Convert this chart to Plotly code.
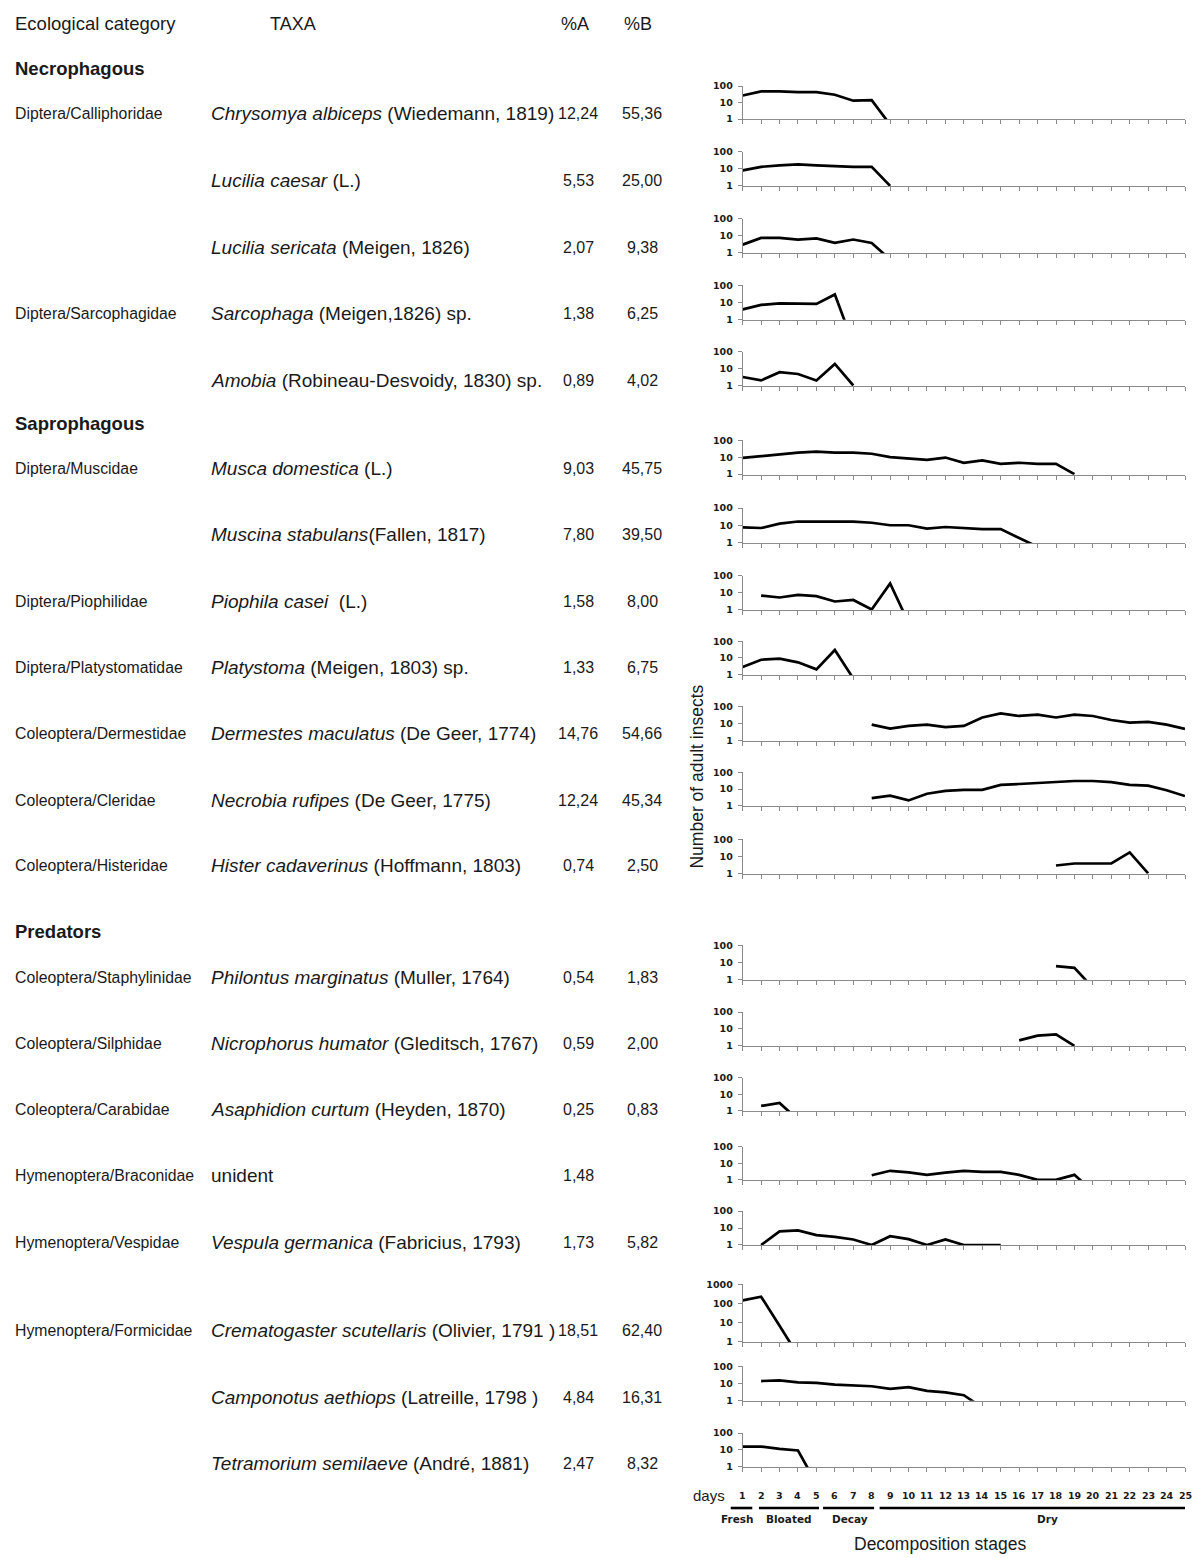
import plotly.graph_objects as go

W, H = 1195, 1558

# ---------------- data ----------------
DAYS = list(range(1, 26))

GROUPS = ["Necrophagous", "Saprophagous", "Predators"]

FAMILIES = [
    "Diptera/Calliphoridae", "", "", "Diptera/Sarcophagidae", "",
    "Diptera/Muscidae", "", "Diptera/Piophilidae", "Diptera/Platystomatidae",
    "Coleoptera/Dermestidae", "Coleoptera/Cleridae", "Coleoptera/Histeridae",
    "Coleoptera/Staphylinidae", "Coleoptera/Silphidae", "Coleoptera/Carabidae",
    "Hymenoptera/Braconidae", "Hymenoptera/Vespidae", "Hymenoptera/Formicidae", "", "",
]

TAXA = [
    "<i>Chrysomya albiceps</i> (Wiedemann, 1819)",
    "<i>Lucilia caesar</i> (L.)",
    "<i>Lucilia sericata</i> (Meigen, 1826)",
    "<i>Sarcophaga</i> (Meigen,1826) sp.",
    "<i>Amobia</i> (Robineau-Desvoidy, 1830) sp.",
    "<i>Musca domestica</i> (L.)",
    "<i>Muscina stabulans</i>(Fallen, 1817)",
    "<i>Piophila casei</i>  (L.)",
    "<i>Platystoma</i> (Meigen, 1803) sp.",
    "<i>Dermestes maculatus</i> (De Geer, 1774)",
    "<i>Necrobia rufipes</i> (De Geer, 1775)",
    "<i>Hister cadaverinus</i> (Hoffmann, 1803)",
    "<i>Philontus marginatus</i> (Muller, 1764)",
    "<i>Nicrophorus humator</i> (Gleditsch, 1767)",
    "<i>Asaphidion curtum</i> (Heyden, 1870)",
    "unident",
    "<i>Vespula germanica</i> (Fabricius, 1793)",
    "<i>Crematogaster scutellaris</i> (Olivier, 1791 )",
    "<i>Camponotus aethiops</i> (Latreille, 1798 )",
    "<i>Tetramorium semilaeve</i> (André, 1881)",
]

PCT_A = ["12,24", "5,53", "2,07", "1,38", "0,89", "9,03", "7,80", "1,58", "1,33",
         "14,76", "12,24", "0,74", "0,54", "0,59", "0,25", "1,48", "1,73",
         "18,51", "4,84", "2,47"]
PCT_B = ["55,36", "25,00", "9,38", "6,25", "4,02", "45,75", "39,50", "8,00", "6,75",
         "54,66", "45,34", "2,50", "1,83", "2,00", "0,83", "", "5,82",
         "62,40", "16,31", "8,32"]

# number of adult insects per day (first value on START_DAY)
chrysomya_albiceps = [27, 48, 48, 43, 43, 30, 13, 14, 0.45]
lucilia_caesar = [8, 13, 16, 18, 16, 14, 13, 13, 1]
lucilia_sericata = [3, 7.5, 7.5, 6, 7, 3.8, 6, 3.8, 0.4]
sarcophaga_sp = [3.8, 7, 8.7, 8.7, 8, 29, 0.035]
amobia_sp = [3.2, 2, 6.2, 4.8, 2, 19, 1]
musca_domestica = [9, 11.5, 15.5, 18.5, 21, 18.5, 18.5, 16, 10, 8.4, 7, 9.5, 4.7, 6.4,
                   4, 4.7, 4, 4, 1]
muscina_stabulans = [7.5, 6.9, 12.5, 16.5, 16.5, 16.5, 16.5, 14, 10, 10, 6.3, 7.9, 7, 6,
                     6, 2, 0.55]
piophila_casei = [6.8, 5.2, 7.5, 6.2, 3, 3.7, 1, 36, 0.16]
platystoma_sp = [2.9, 7.8, 9, 5.5, 2.1, 30, 0.6]
dermestes_maculatus = [8.4, 4.9, 7, 8.4, 5.9, 7, 22, 38, 27, 32, 22, 32, 27, 15.6, 11,
                       12, 8.4, 4.7]
necrobia_rufipes = [2.9, 4, 2.1, 5.2, 7.8, 9, 9, 17.5, 20, 23, 27.5, 30, 30, 26, 17.5,
                    16, 8.5, 3.8]
hister_cadaverinus = [2.9, 3.8, 3.8, 3.8, 17, 1]
philontus_marginatus = [5.9, 4.7, 0.32]
nicrophorus_humator = [2.1, 4, 4.8, 1]
asaphidion_curtum = [2, 3, 0.3]
braconidae_unident = [1.9, 3.5, 2.8, 2, 2.7, 3.5, 3, 3, 2, 1, 1, 2, 0.2]
vespula_germanica = [1, 6.4, 7.3, 3.8, 3, 2.1, 1, 3.3, 2.2, 1, 2.1, 1, 1, 1]
crematogaster_scutellaris = [145, 224, 7, 0.2]
camponotus_aethiops = [13.6, 15, 11.4, 10.5, 8.4, 7.6, 6.7, 4.7, 5.9, 3.6, 2.9, 2, 0.37]
tetramorium_semilaeve = [16, 16, 11.7, 9.3, 0.1]

COUNTS = [chrysomya_albiceps, lucilia_caesar, lucilia_sericata, sarcophaga_sp, amobia_sp,
          musca_domestica, muscina_stabulans, piophila_casei, platystoma_sp,
          dermestes_maculatus, necrobia_rufipes, hister_cadaverinus,
          philontus_marginatus, nicrophorus_humator, asaphidion_curtum,
          braconidae_unident, vespula_germanica, crematogaster_scutellaris,
          camponotus_aethiops, tetramorium_semilaeve]
START_DAY = [1, 1, 1, 1, 1, 1, 1, 2, 1, 8, 8, 18, 18, 16, 2, 8, 2, 1, 2, 1]
TOP_DECADE = [2] * 17 + [3, 2, 2]

STAGES = ["Fresh", "Bloated", "Decay", "Dry"]
STAGE_FIRST_DAY = [1, 2, 6, 9]
STAGE_LAST_DAY = [1, 5, 8, 25]

# ---------------- layout (pixel positions in the window) ----------------
AXIS_X0, AXIS_X1 = 742.7, 1185.0
AXIS_BOTTOM_PX = [114.3, 181.7, 249, 316, 382.7, 472, 540.7, 608.3, 674, 740, 806, 874,
                  980.7, 1047.7, 1113.3, 1182.7, 1248.3, 1346, 1404.7, 1471.7]
AXIS_TOP_PX = [80.7, 146.7, 214.3, 281.3, 348.3, 437.3, 505.7, 574, 639.7, 705.3, 771.7,
               839.3, 946, 1013.3, 1079.3, 1148.7, 1213.7, 1287.3, 1370, 1437.3]
ROW_Y = [108, 176, 243, 310, 377, 466, 532, 600, 666, 733, 800, 866, 978, 1045, 1111,
         1178, 1245, 1334, 1401, 1468]
GROUP_Y = [63, 420, 932]
STAGE_BAR_PAD = [(-0.65, 0.52), (-0.12, 0.14), (-0.64, 0.13), (-0.57, 0.0)]
STAGE_LABEL_SHIFT = [-0.2, 0.0, 0.1, 0.85]

AXIS_GRAY = "#8a8a8a"
TEXT = "#1a1a1a"
SANS = "Liberation Sans, Arial, sans-serif"
BOLDSMALL = "DejaVu Sans, Verdana, sans-serif"
TICKFONT = dict(family=BOLDSMALL, size=9.5, color=TEXT, weight="bold")


def fx(px):
    return px / W


def fy(py):
    return 1 - py / H


def day_px(d):
    return AXIS_X0 + (d - 1) * (AXIS_X1 - AXIS_X0) / 24.0


fig = go.Figure()
layout_axes = {}
for i, vals in enumerate(COUNTS):
    n = "" if i == 0 else str(i + 1)
    xs = list(range(START_DAY[i], START_DAY[i] + len(vals)))
    fig.add_trace(go.Scatter(
        x=xs, y=vals, mode="lines", line=dict(color="black", width=2.7),
        xaxis="x" + n, yaxis="y" + n, showlegend=False, hoverinfo="skip"))
    top = TOP_DECADE[i]
    layout_axes["xaxis" + n] = dict(
        domain=[fx(AXIS_X0), fx(AXIS_X1)], range=[1, 25], anchor="y" + n,
        showgrid=False, zeroline=False, showline=True, linecolor=AXIS_GRAY, linewidth=1,
        ticks="outside", ticklen=4, tickwidth=1, tickcolor=AXIS_GRAY,
        tickmode="array", tickvals=DAYS, showticklabels=False, fixedrange=True)
    layout_axes["yaxis" + n] = dict(
        domain=[fy(AXIS_BOTTOM_PX[i]), fy(AXIS_TOP_PX[i])], type="log",
        range=[-0.03, top], anchor="x" + n,
        showgrid=False, zeroline=False, showline=True, linecolor=AXIS_GRAY, linewidth=1,
        ticks="outside", ticklen=4, tickwidth=1, tickcolor=AXIS_GRAY,
        tickmode="array", tickvals=[10 ** k for k in range(top + 1)],
        ticktext=[str(10 ** k) for k in range(top + 1)], tickfont=TICKFONT,
        ticklabelstandoff=3, fixedrange=True)

ann = []


def text(x, y, s, size, xanchor="left", bold=False, color=TEXT, family=SANS, **kw):
    ann.append(dict(x=fx(x), y=fy(y), xref="paper", yref="paper", text=s, showarrow=False,
                    xanchor=xanchor, yanchor="middle",
                    font=dict(family=family, size=size, color=color,
                              weight="bold" if bold else "normal"), **kw))


# headers
text(13, 18, "Ecological category", 18.5)
text(293, 18, "TAXA", 18, xanchor="center")
text(575, 18, "%A", 18, xanchor="center")
text(638, 18, "%B", 18, xanchor="center")

for g, gy in zip(GROUPS, GROUP_Y):
    text(13, gy, g, 18.5, bold=True)

for i in range(len(TAXA)):
    if FAMILIES[i]:
        text(13, ROW_Y[i], FAMILIES[i], 15.8)
    text(209, ROW_Y[i], TAXA[i], 19)
    text(578, ROW_Y[i], PCT_A[i], 16, xanchor="center")
    if PCT_B[i]:
        text(642, ROW_Y[i], PCT_B[i], 16, xanchor="center")

# vertical axis title
text(697, 776, "Number of adult insects", 17.5, xanchor="center", textangle=-90)

# day labels under the last panel
for d in DAYS:
    text(day_px(d), 1500, str(d), 9.5, xanchor="center", bold=True, family=BOLDSMALL)
text(709, 1500, "days", 15, xanchor="center")

# decomposition stages
shapes = []
for k, st in enumerate(STAGES):
    x0 = day_px(STAGE_FIRST_DAY[k] + STAGE_BAR_PAD[k][0])
    x1 = day_px(STAGE_LAST_DAY[k] + STAGE_BAR_PAD[k][1])
    shapes.append(dict(type="line", xref="paper", yref="paper", x0=fx(x0), x1=fx(x1),
                       y0=fy(1512.7), y1=fy(1512.7), line=dict(color="black", width=2.6)))
    xc = (x0 + x1) / 2 + STAGE_LABEL_SHIFT[k] * (AXIS_X1 - AXIS_X0) / 24.0
    text(xc, 1524, st, 10.5, xanchor="center", bold=True, family=BOLDSMALL)

text(940, 1549, "Decomposition stages", 17.5, xanchor="center")

fig.update_layout(
    width=W, height=H, autosize=False,
    margin=dict(l=0, r=0, t=0, b=0),
    paper_bgcolor="white", plot_bgcolor="white",
    showlegend=False, annotations=ann, shapes=shapes,
    **layout_axes)

# the page's default 8px body margin would push the figure out of the window
fig.write_html(
    "out.html",
    config={"displayModeBar": False, "staticPlot": True},
    post_script="document.body.style.margin='0px';document.body.style.overflow='hidden';")
